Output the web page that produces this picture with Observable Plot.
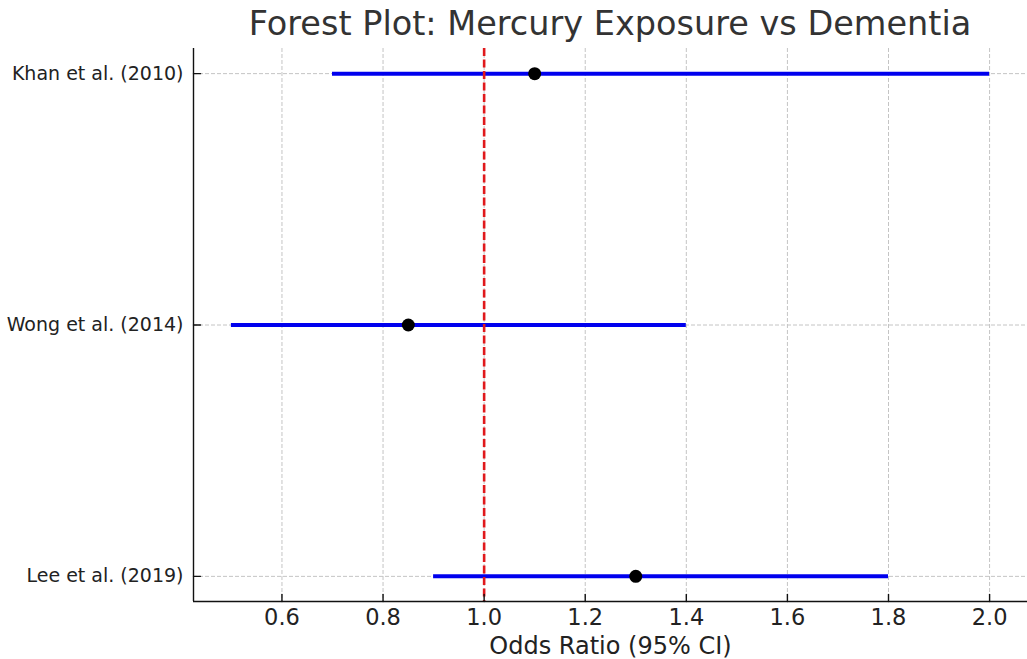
<!DOCTYPE html>
<html>
<head>
<meta charset="utf-8">
<script src="https://cdn.jsdelivr.net/npm/d3@7"></script>
<script src="https://cdn.jsdelivr.net/npm/@observablehq/plot@0.6"></script>
<style>
  html, body { margin: 0; padding: 0; background: #fff; }
  #title {
    height: 44px; line-height: 47px; box-sizing: border-box;
    padding-left: 193px; text-align: center; white-space: nowrap;
    font-family: "DejaVu Sans", sans-serif; font-size: 33.5px; color: #333;
  }
</style>
</head>
<body>
<div id="title">Forest Plot: Mercury Exposure vs Dementia</div>
<div id="chart"></div>
<script>
// ---- data ----
const studies   = ["Khan et al. (2010)", "Wong et al. (2014)", "Lee et al. (2019)"];
const oddsRatio = [1.10, 0.85, 1.30];
const ciLower   = [0.70, 0.50, 0.90];
const ciUpper   = [2.00, 1.40, 1.80];
const xTicks    = [0.6, 0.8, 1.0, 1.2, 1.4, 1.6, 1.8, 2.0];
const refValue  = 1.0;
const xLabel    = "Odds Ratio (95% CI)";

const rows = studies.map((s, i) => ({study: s, idx: i, or: oddsRatio[i], lo: ciLower[i], hi: ciUpper[i]}));
const yIdx = studies.map((s, i) => i);
const xDomain = [0.425, 2.075];
const yDomain = [studies.length - 1 + 0.1, -0.1];

const tickShape = {draw(context, l) { context.moveTo(0, 0); context.lineTo(0, -l); }};

const chart = Plot.plot({
  width: 1027,
  height: 615,
  marginLeft: 193,
  marginRight: 0,
  marginTop: 4,
  marginBottom: 58,
  style: {fontFamily: "DejaVu Sans, sans-serif", background: "#fff", overflow: "visible"},
  x: {domain: xDomain, label: null},
  y: {domain: yDomain, label: null},
  marks: [
    Plot.gridX({ticks: xTicks, stroke: "#c4c4c4", strokeOpacity: 1, strokeWidth: 1, strokeDasharray: "4,2"}),
    Plot.gridY({ticks: yIdx, stroke: "#c4c4c4", strokeOpacity: 1, strokeWidth: 1, strokeDasharray: "4,2"}),
    Plot.ruleY(rows, {y: "idx", x1: "lo", x2: "hi", stroke: "#0000ee", strokeWidth: 4}),
    Plot.ruleX([refValue], {stroke: "#e0191c", strokeWidth: 2.6, strokeDasharray: "8,3.5"}),
    Plot.dot(rows, {x: "or", y: "idx", r: 6.5, fill: "black", stroke: "none"}),
    // spines
    Plot.ruleX([xDomain[0]], {stroke: "#111", strokeWidth: 1.4}),
    Plot.ruleY([yDomain[0]], {stroke: "#111", strokeWidth: 1.4}),
    // inward ticks
    Plot.vector(xTicks, {x: d => d, y: () => yDomain[0], length: 7, rotate: 0, anchor: "start", shape: tickShape, stroke: "#111", strokeWidth: 1.4}),
    Plot.vector(yIdx, {x: () => xDomain[0], y: d => d, length: 7, rotate: 90, anchor: "start", shape: tickShape, stroke: "#111", strokeWidth: 1.4}),
    // tick labels
    Plot.axisX({ticks: xTicks, tickSize: 0, tickPadding: 8, tickFormat: d3.format(".1f"), label: null, fontSize: 22.5, fill: "#222"}),
    Plot.axisY({ticks: yIdx, tickSize: 0, tickPadding: 10, tickFormat: i => studies[i], label: null, fontSize: 19, fill: "#222"}),
    Plot.text([xLabel], {frameAnchor: "bottom", lineAnchor: "bottom", dy: 52, text: d => d, fontSize: 24, fill: "#222"})
  ]
});
document.getElementById("chart").appendChild(chart);
</script>
</body>
</html>
